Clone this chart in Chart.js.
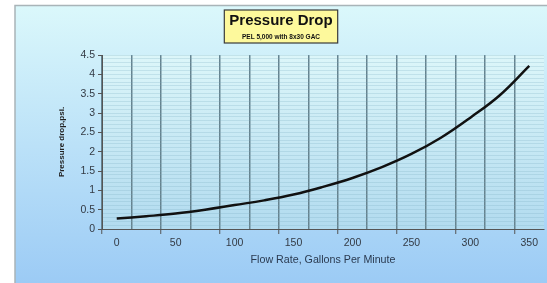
<!DOCTYPE html>
<html>
<head>
<meta charset="utf-8">
<script src="https://cdn.jsdelivr.net/npm/chart.js@4"></script>
<style>
  html, body { margin: 0; padding: 0; background: #fff; }
  #wrap { width: 547px; height: 283px; }
</style>
</head>
<body>
<div id="wrap"><canvas id="chart" width="547" height="283"></canvas></div>
<script>
// values
const flowRate = [0, 25, 50, 75, 100, 125, 150, 175, 200, 225, 250, 275, 300, 325, 350]
const pressureDrop = [0.27, 0.33, 0.40, 0.50, 0.62, 0.74, 0.89, 1.09, 1.32, 1.60, 1.94, 2.36, 2.88, 3.46, 4.22]
const xLabels = [0, 50, 100, 150, 200, 250, 300, 350]
const titleText = 'Pressure Drop'
const subtitleText = 'PEL 5,000 with 8x30 GAC'

const isOdd125 = v => Math.abs(v / 12.5 - Math.round(v / 12.5)) < 1e-6 && Math.round(v / 12.5) % 2 !== 0
const isHalf = v => Math.abs(v * 2 - Math.round(v * 2)) < 1e-6

// backgrounds + yellow title box
const backdrop = {
  id: 'backdrop',
  beforeDraw(chart) {
    const { ctx, chartArea: a, width, height } = chart
    ctx.save()
    ctx.fillStyle = '#ffffff'
    ctx.fillRect(0, 0, width, height)
    let g = ctx.createLinearGradient(0, 5, 0, height)
    g.addColorStop(0, '#dbf8fb')
    g.addColorStop(1, '#9ccbf5')
    ctx.fillStyle = g
    ctx.fillRect(15, 5, width - 15, height - 5)
    ctx.strokeStyle = '#a9b4b8'
    ctx.lineWidth = 1.5
    ctx.beginPath()
    ctx.moveTo(15, height)
    ctx.lineTo(15, 5.5)
    ctx.lineTo(width, 5.5)
    ctx.stroke()

    g = ctx.createLinearGradient(0, a.top, 0, a.bottom)
    g.addColorStop(0, '#dcf6f9')
    g.addColorStop(1, '#b2dbef')
    ctx.fillStyle = g
    ctx.fillRect(a.left, a.top, a.right - a.left, a.bottom - a.top)

    // title box
    const tb = chart.titleBlock
    const cx = (tb.left + tb.right) / 2
    ctx.font = 'bold 15px "Liberation Sans", Arial, sans-serif'
    const w = ctx.measureText(titleText).width + 10
    ctx.fillStyle = '#fdf99c'
    ctx.fillRect(cx - w / 2, 10, w, 33)
    ctx.strokeStyle = '#3a3a3a'
    ctx.lineWidth = 1.2
    ctx.strokeRect(cx - w / 2, 10, w, 33)
    ctx.restore()
  }
}

const ctx = document.getElementById('chart').getContext('2d')
new Chart(ctx, {
  type: 'line',
  data: {
    datasets: [{
      label: 'Pressure drop',
      data: flowRate.map((x, i) => ({ x, y: pressureDrop[i] })),
      borderColor: '#111111',
      borderWidth: 2.5,
      pointRadius: 0,
      tension: 0.4,
      fill: false
    }]
  },
  options: {
    responsive: false,
    animation: false,
    layout: { padding: { left: 15, right: 0, top: 0, bottom: 0 } },
    plugins: {
      legend: { display: false },
      tooltip: { enabled: false },
      title: {
        display: true,
        text: titleText,
        color: '#111',
        font: { family: '"Liberation Sans", Arial, sans-serif', size: 15, weight: 'bold' },
        padding: { top: 11.5, bottom: 0 }
      },
      subtitle: {
        display: true,
        text: subtitleText,
        color: '#111',
        font: { family: '"Liberation Sans", Arial, sans-serif', size: 6.5, weight: 'bold' },
        padding: { top: 4.3, bottom: 13.4 }
      }
    },
    scales: {
      x: {
        type: 'linear',
        min: -12.5,
        max: 362.5,
        afterFit: axis => { axis.height = 54 },
        ticks: {
          stepSize: 12.5,
          autoSkip: false,
          maxRotation: 0,
          padding: 3,
          color: '#333a44',
          font: { family: '"Liberation Sans", Arial, sans-serif', size: 10.5 },
          callback: v => xLabels.includes(v) ? String(v) : ''
        },
        grid: {
          color: c => (isOdd125(c.tick.value) && c.tick.value < 360) ? '#66838f' : 'rgba(0,0,0,0)',
          lineWidth: 1.5,
          tickLength: 5,
          tickColor: c => (Math.abs(((c.tick.value - 37.5) % 50)) < 1e-6) ? '#555' : 'rgba(0,0,0,0)',
          tickWidth: 1
        },
        border: { color: '#555', width: 1 },
        title: {
          display: true,
          text: 'Flow Rate, Gallons Per Minute',
          color: '#2a3a50',
          font: { family: '"Liberation Sans", Arial, sans-serif', size: 10.7 },
          padding: { top: 0, bottom: 16.6 }
        }
      },
      y: {
        min: 0,
        max: 4.5,
        afterFit: axis => { axis.width = 87 },
        ticks: {
          stepSize: 0.1,
          autoSkip: false,
          padding: 3,
          color: '#333a44',
          font: { family: '"Liberation Sans", Arial, sans-serif', size: 10.5 },
          callback: v => isHalf(v) ? String(Math.round(v * 10) / 10) : ''
        },
        grid: {
          color: 'rgba(120,170,190,0.25)',
          lineWidth: 1,
          tickLength: 4,
          tickColor: c => isHalf(c.tick.value) ? '#555' : 'rgba(0,0,0,0)'
        },
        border: { color: '#555', width: 1 },
        title: {
          display: true,
          text: 'Pressure drop,psi.',
          color: '#222',
          font: { family: '"Liberation Sans", Arial, sans-serif', size: 8, weight: 'bold' },
          padding: { top: 42, bottom: 0 }
        }
      }
    }
  },
  plugins: [backdrop]
})
</script>
</body>
</html>
